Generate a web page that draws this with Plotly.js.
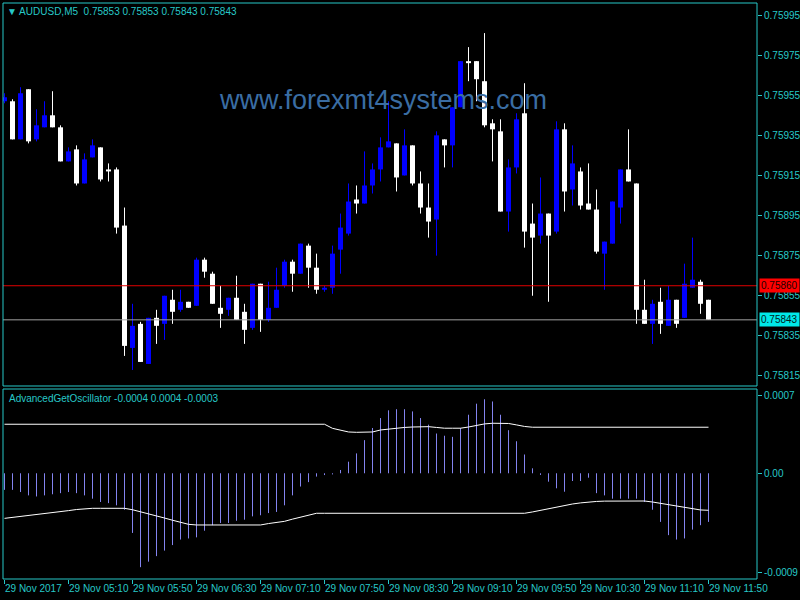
<!DOCTYPE html>
<html><head><meta charset="utf-8">
<script src="https://cdn.plot.ly/plotly-3.0.1.min.js"></script>
<style>html,body{margin:0;padding:0;background:#000;}#chart{width:800px;height:600px;}</style>
</head><body><div id="chart"></div>
<script>
// ---- price data (AUDUSD M5, 29 Nov 2017 04:30 .. 11:50) ----
const open = [
0.75952,0.75952,0.75933,0.75958,0.75933,0.75939,0.75945,0.75939,0.75922,0.75928,
0.75911,0.75924,0.75929,0.75918,0.75918,0.75890,0.75829,0.75841,0.75821,0.75844,
0.75841,0.75853,0.75848,0.75852,0.75850,0.75873,0.75866,0.75849,0.75848,0.75854,
0.75847,0.75839,0.75861,0.75843,0.75849,0.75860,0.75872,0.75866,0.75880,0.75869,
0.75858,0.75859,0.75878,0.75886,0.75903,0.75901,0.75910,0.75918,0.75929,0.75931,
0.75915,0.75930,0.75911,0.75899,0.75893,0.75933,0.75930,0.75949,0.75972,0.75972,
0.75962,0.75941,0.75937,0.75897,0.75919,0.75946,0.75891,0.75885,0.75896,0.75887,
0.75938,0.75908,0.75917,0.75901,0.75898,0.75876,0.75881,0.75899,0.75918,0.75911,
0.75848,0.75841,0.75852,0.75840,0.75853,0.75844,0.75859,0.75862,0.75853];
const high = [
0.75956,0.75953,0.75959,0.75958,0.75948,0.75952,0.75957,0.75940,0.75929,0.75930,
0.75926,0.75933,0.75929,0.75921,0.75919,0.75899,0.75851,0.75842,0.75844,0.75848,
0.75855,0.75858,0.75858,0.75852,0.75874,0.75874,0.75867,0.75860,0.75854,0.75865,
0.75851,0.75861,0.75861,0.75862,0.75869,0.75873,0.75873,0.75881,0.75881,0.75876,
0.75860,0.75880,0.75896,0.75911,0.75910,0.75927,0.75921,0.75934,0.75952,0.75931,
0.75938,0.75930,0.75917,0.75911,0.75937,0.75933,0.75949,0.75972,0.75979,0.75972,
0.75986,0.75943,0.75943,0.75923,0.75946,0.75961,0.75901,0.75914,0.75896,0.75942,
0.75941,0.75930,0.75919,0.75921,0.75908,0.75882,0.75902,0.75918,0.75938,0.75911,
0.75863,0.75853,0.75859,0.75860,0.75853,0.75871,0.75884,0.75863,0.75853];
const low = [
0.75951,0.75933,0.75933,0.75931,0.75932,0.75939,0.75939,0.75922,0.75922,0.75910,
0.75911,0.75924,0.75912,0.75912,0.75886,0.75825,0.75818,0.75822,0.75821,0.75831,
0.75833,0.75841,0.75847,0.75849,0.75850,0.75864,0.75851,0.75839,0.75845,0.75843,
0.75831,0.75838,0.75837,0.75842,0.75849,0.75859,0.75857,0.75866,0.75859,0.75856,
0.75857,0.75856,0.75866,0.75885,0.75896,0.75901,0.75906,0.75912,0.75929,0.75907,
0.75915,0.75910,0.75896,0.75884,0.75875,0.75919,0.75919,0.75949,0.75962,0.75952,
0.75939,0.75922,0.75897,0.75887,0.75916,0.75879,0.75855,0.75881,0.75852,0.75886,
0.75897,0.75900,0.75898,0.75898,0.75876,0.75858,0.75881,0.75891,0.75912,0.75841,
0.75841,0.75831,0.75836,0.75840,0.75839,0.75844,0.75859,0.75846,0.75843];
const close = [
0.75954,0.75933,0.75956,0.75932,0.75940,0.75945,0.75939,0.75922,0.75927,0.75911,
0.75923,0.75930,0.75913,0.75917,0.75889,0.75830,0.75840,0.75822,0.75844,0.75840,
0.75855,0.75847,0.75852,0.75849,0.75873,0.75867,0.75851,0.75846,0.75854,0.75843,
0.75838,0.75861,0.75843,0.75849,0.75858,0.75872,0.75866,0.75881,0.75869,0.75858,
0.75859,0.75876,0.75889,0.75902,0.75901,0.75910,0.75918,0.75929,0.75932,0.75914,
0.75930,0.75911,0.75899,0.75892,0.75935,0.75930,0.75949,0.75972,0.75971,0.75963,
0.75940,0.75938,0.75897,0.75919,0.75943,0.75887,0.75884,0.75896,0.75885,0.75938,
0.75907,0.75921,0.75900,0.75898,0.75877,0.75882,0.75902,0.75918,0.75912,0.75848,
0.75841,0.75851,0.75841,0.75853,0.75841,0.75861,0.75863,0.75851,0.75843];

// ---- AdvancedGetOscillator ----
const oscHist = [
-0.00015,-0.00015,-0.00017,-0.00020,-0.00021,-0.00020,-0.00019,-0.00018,-0.00017,-0.00018,
-0.00020,-0.00023,-0.00026,-0.00027,-0.00029,-0.00033,-0.00054,-0.00085,-0.00080,-0.00075,
-0.00070,-0.00065,-0.00060,-0.00059,-0.00058,-0.00052,-0.00047,-0.00045,-0.00045,-0.00043,
-0.00042,-0.00039,-0.00038,-0.00036,-0.00035,-0.00029,-0.00020,-0.00012,-0.00008,-0.00003,
-0.000016,-0.00001,0.00003,0.000105,0.00018,0.00030,0.00041,0.00050,0.00057,0.00058,
0.00058,0.00056,0.00050,0.00044,0.00036,0.00034,0.00033,0.00041,0.00053,0.00063,
0.00067,0.00065,0.00053,0.00039,0.00029,0.00017,0.000045,-0.000015,-0.000076,-0.000136,
-0.000167,-0.00007,-0.00007,-0.00004,-0.00018,-0.00020,-0.00023,-0.00023,-0.00023,-0.00023,
-0.00026,-0.00033,-0.00044,-0.00056,-0.00060,-0.00059,-0.00051,-0.00047,-0.00044];
const oscUpper = [
0.000444,0.000444,0.000444,0.000444,0.000444,0.000444,0.000444,0.000444,0.000444,0.000444,
0.000444,0.000444,0.000444,0.000444,0.000444,0.000444,0.000444,0.000444,0.000444,0.000444,
0.000444,0.000444,0.000444,0.000444,0.000444,0.000444,0.000444,0.000444,0.000444,0.000444,
0.000444,0.000444,0.000444,0.000444,0.000444,0.000444,0.000444,0.000444,0.000444,0.000444,
0.000444,0.000407,0.000392,0.000374,0.000371,0.000371,0.000374,0.000392,0.000401,0.000410,
0.000415,0.000419,0.000422,0.000422,0.000415,0.000408,0.000408,0.000408,0.000419,0.000433,
0.000447,0.000453,0.000453,0.000451,0.000438,0.000424,0.000417,0.000417,0.000417,0.000417,
0.000417,0.000417,0.000417,0.000417,0.000417,0.000417,0.000417,0.000417,0.000417,0.000417,
0.000417,0.000417,0.000417,0.000417,0.000417,0.000417,0.000417,0.000417,0.000417];
const oscLower = [
-0.000408,-0.000400,-0.000387,-0.000380,-0.000372,-0.000365,-0.000356,-0.000347,-0.000338,-0.000328,
-0.000322,-0.000317,-0.000317,-0.000317,-0.000317,-0.000317,-0.000330,-0.000347,-0.000365,-0.000385,
-0.000405,-0.000425,-0.000445,-0.000462,-0.000468,-0.000468,-0.000468,-0.000468,-0.000468,-0.000468,
-0.000468,-0.000468,-0.000468,-0.000455,-0.000445,-0.000435,-0.000415,-0.000395,-0.000375,-0.000362,
-0.000362,-0.000362,-0.000362,-0.000362,-0.000362,-0.000362,-0.000362,-0.000362,-0.000362,-0.000362,
-0.000362,-0.000362,-0.000362,-0.000362,-0.000362,-0.000362,-0.000362,-0.000362,-0.000362,-0.000362,
-0.000362,-0.000362,-0.000362,-0.000362,-0.000362,-0.000362,-0.000350,-0.000335,-0.000320,-0.000305,
-0.000290,-0.000278,-0.000268,-0.000260,-0.000255,-0.000252,-0.000251,-0.000251,-0.000251,-0.000251,
-0.000251,-0.000260,-0.000272,-0.000290,-0.000302,-0.000312,-0.000325,-0.000332,-0.000335];

// ---- axis labels / levels ----
const timeTickLabels = ["29 Nov 2017","29 Nov 05:10","29 Nov 05:50","29 Nov 06:30","29 Nov 07:10","29 Nov 07:50",
  "29 Nov 08:30","29 Nov 09:10","29 Nov 09:50","29 Nov 10:30","29 Nov 11:10","29 Nov 11:50"];
const timeTickBars = [0,8,16,24,32,40,48,56,64,72,80,88];
const priceTicks = [0.75995,0.75975,0.75955,0.75935,0.75915,0.75895,0.75875,0.75855,0.75835,0.75815];
const oscTicks = [0.0007, 0.0, -0.0009];
const oscTickText = ["0.0007","0.00","-0.0009"];
const askLevel = 0.75860;
const bidLevel = 0.75843;
const headerText = "AUDUSD,M5  0.75853 0.75853 0.75843 0.75843";
const oscHeader = "AdvancedGetOscillator -0.0004 0.0004 -0.0003";
const watermark = "www.forexmt4systems.com";

// ---- build traces ----
const FG = '#27c8c8';
const bars = open.map((_, i) => i);
const up = bars.filter(i => close[i] > open[i]);
const dn = bars.filter(i => close[i] <= open[i]);

function wicks(idx) {
  const x = [], y = [];
  idx.forEach(i => { x.push(i, i, null); y.push(low[i], high[i], null); });
  return {x, y};
}
const wUp = wicks(up), wDn = wicks(dn);
const histX = [], histY = [];
bars.forEach(i => { histX.push(i, i, null); histY.push(0, oscHist[i], null); });

const traces = [
  {type:'scatter', mode:'lines', x:wUp.x, y:wUp.y, line:{color:'#0000ff', width:1}, hoverinfo:'skip', xaxis:'x', yaxis:'y'},
  {type:'scatter', mode:'lines', x:wDn.x, y:wDn.y, line:{color:'#ffffff', width:1}, hoverinfo:'skip', xaxis:'x', yaxis:'y'},
  {type:'bar', x:up, base:up.map(i => open[i]), y:up.map(i => close[i]-open[i]), width:0.62,
   marker:{color:'#0000ff', line:{width:0}}, xaxis:'x', yaxis:'y'},
  {type:'bar', x:dn, base:dn.map(i => close[i]), y:dn.map(i => open[i]-close[i]), width:0.62,
   marker:{color:'#ffffff', line:{width:0}}, xaxis:'x', yaxis:'y'},
  {type:'scatter', mode:'lines', x:histX, y:histY, line:{color:'#8484f0', width:1}, xaxis:'x', yaxis:'y2'},
  {type:'scatter', mode:'lines', x:bars, y:oscUpper, line:{color:'#ffffff', width:1}, xaxis:'x', yaxis:'y2'},
  {type:'scatter', mode:'lines', x:bars, y:oscLower, line:{color:'#ffffff', width:1}, xaxis:'x', yaxis:'y2'}
];

const layout = {
  width:800, height:600,
  paper_bgcolor:'#000', plot_bgcolor:'#000',
  margin:{l:3, r:43, t:3, b:21},
  showlegend:false, barmode:'overlay',
  font:{family:'Liberation Sans, Arial, sans-serif', size:10, color:FG},
  xaxis:{range:[-0.1875, 94.0625], anchor:'y2', tickmode:'array', tickvals:timeTickBars, ticktext:timeTickLabels,
    ticks:'outside', ticklen:4, tickcolor:FG, showgrid:false, zeroline:false, showline:false, tickangle:0,
    ticklabelposition:'outside right', tickfont:{size:10, color:FG}, fixedrange:true},
  yaxis:{domain:[0.33507,1], range:[0.75810,0.76001], side:'right', anchor:'x', tickmode:'array',
    tickvals:priceTicks, ticktext:priceTicks.map(v => v.toFixed(5)), ticks:'outside', ticklen:4, tickcolor:FG,
    showgrid:false, zeroline:false, showline:false, tickfont:{size:10, color:FG}},
  yaxis2:{domain:[0,0.32986], range:[-0.000957,0.000763], side:'right', anchor:'x', tickmode:'array',
    tickvals:oscTicks, ticktext:oscTickText, ticks:'outside', ticklen:4, tickcolor:FG,
    showgrid:false, zeroline:false, showline:false, tickfont:{size:10, color:FG}},
  shapes:[
    {type:'line', xref:'paper', x0:0, x1:1, yref:'y', y0:askLevel, y1:askLevel, line:{color:'#e00000', width:1}},
    {type:'line', xref:'paper', x0:0, x1:1, yref:'y', y0:bidLevel, y1:bidLevel, line:{color:'#a0a0a0', width:1}},
    {type:'rect', xref:'paper', x0:0, x1:1, yref:'y domain', y0:0, y1:1, line:{color:FG, width:1}},
    {type:'rect', xref:'paper', x0:0, x1:1, yref:'y2 domain', y0:0, y1:1, line:{color:FG, width:1}}
  ],
  annotations:[
    {xref:'paper', yref:'paper', x:0.504, y:0.8316, xanchor:'center', yanchor:'middle', text:watermark, showarrow:false,
     font:{family:'Liberation Sans, Arial, sans-serif', size:27, color:'#3a6da3'}},
    {xref:'paper', yref:'paper', x:0.003, y:0.986, xanchor:'left', yanchor:'middle', showarrow:false,
     text:'▼ ' + headerText, font:{size:10, color:FG}},
    {xref:'paper', yref:'paper', x:0.005, y:0.3142, xanchor:'left', yanchor:'middle', showarrow:false,
     text:oscHeader, font:{size:10, color:FG}},
    {xref:'paper', yref:'y', x:1, y:askLevel, xanchor:'left', yanchor:'middle', xshift:2, showarrow:false,
     text:askLevel.toFixed(5), bgcolor:'#ff0000', borderpad:1, font:{size:10, color:'#200000'}},
    {xref:'paper', yref:'y', x:1, y:bidLevel, xanchor:'left', yanchor:'middle', xshift:2, showarrow:false,
     text:bidLevel.toFixed(5), bgcolor:'#00e8e8', borderpad:1, font:{size:10, color:'#002020'}}
  ]
};

Plotly.newPlot('chart', traces, layout, {displayModeBar:false, staticPlot:true});
</script>
</body></html>
